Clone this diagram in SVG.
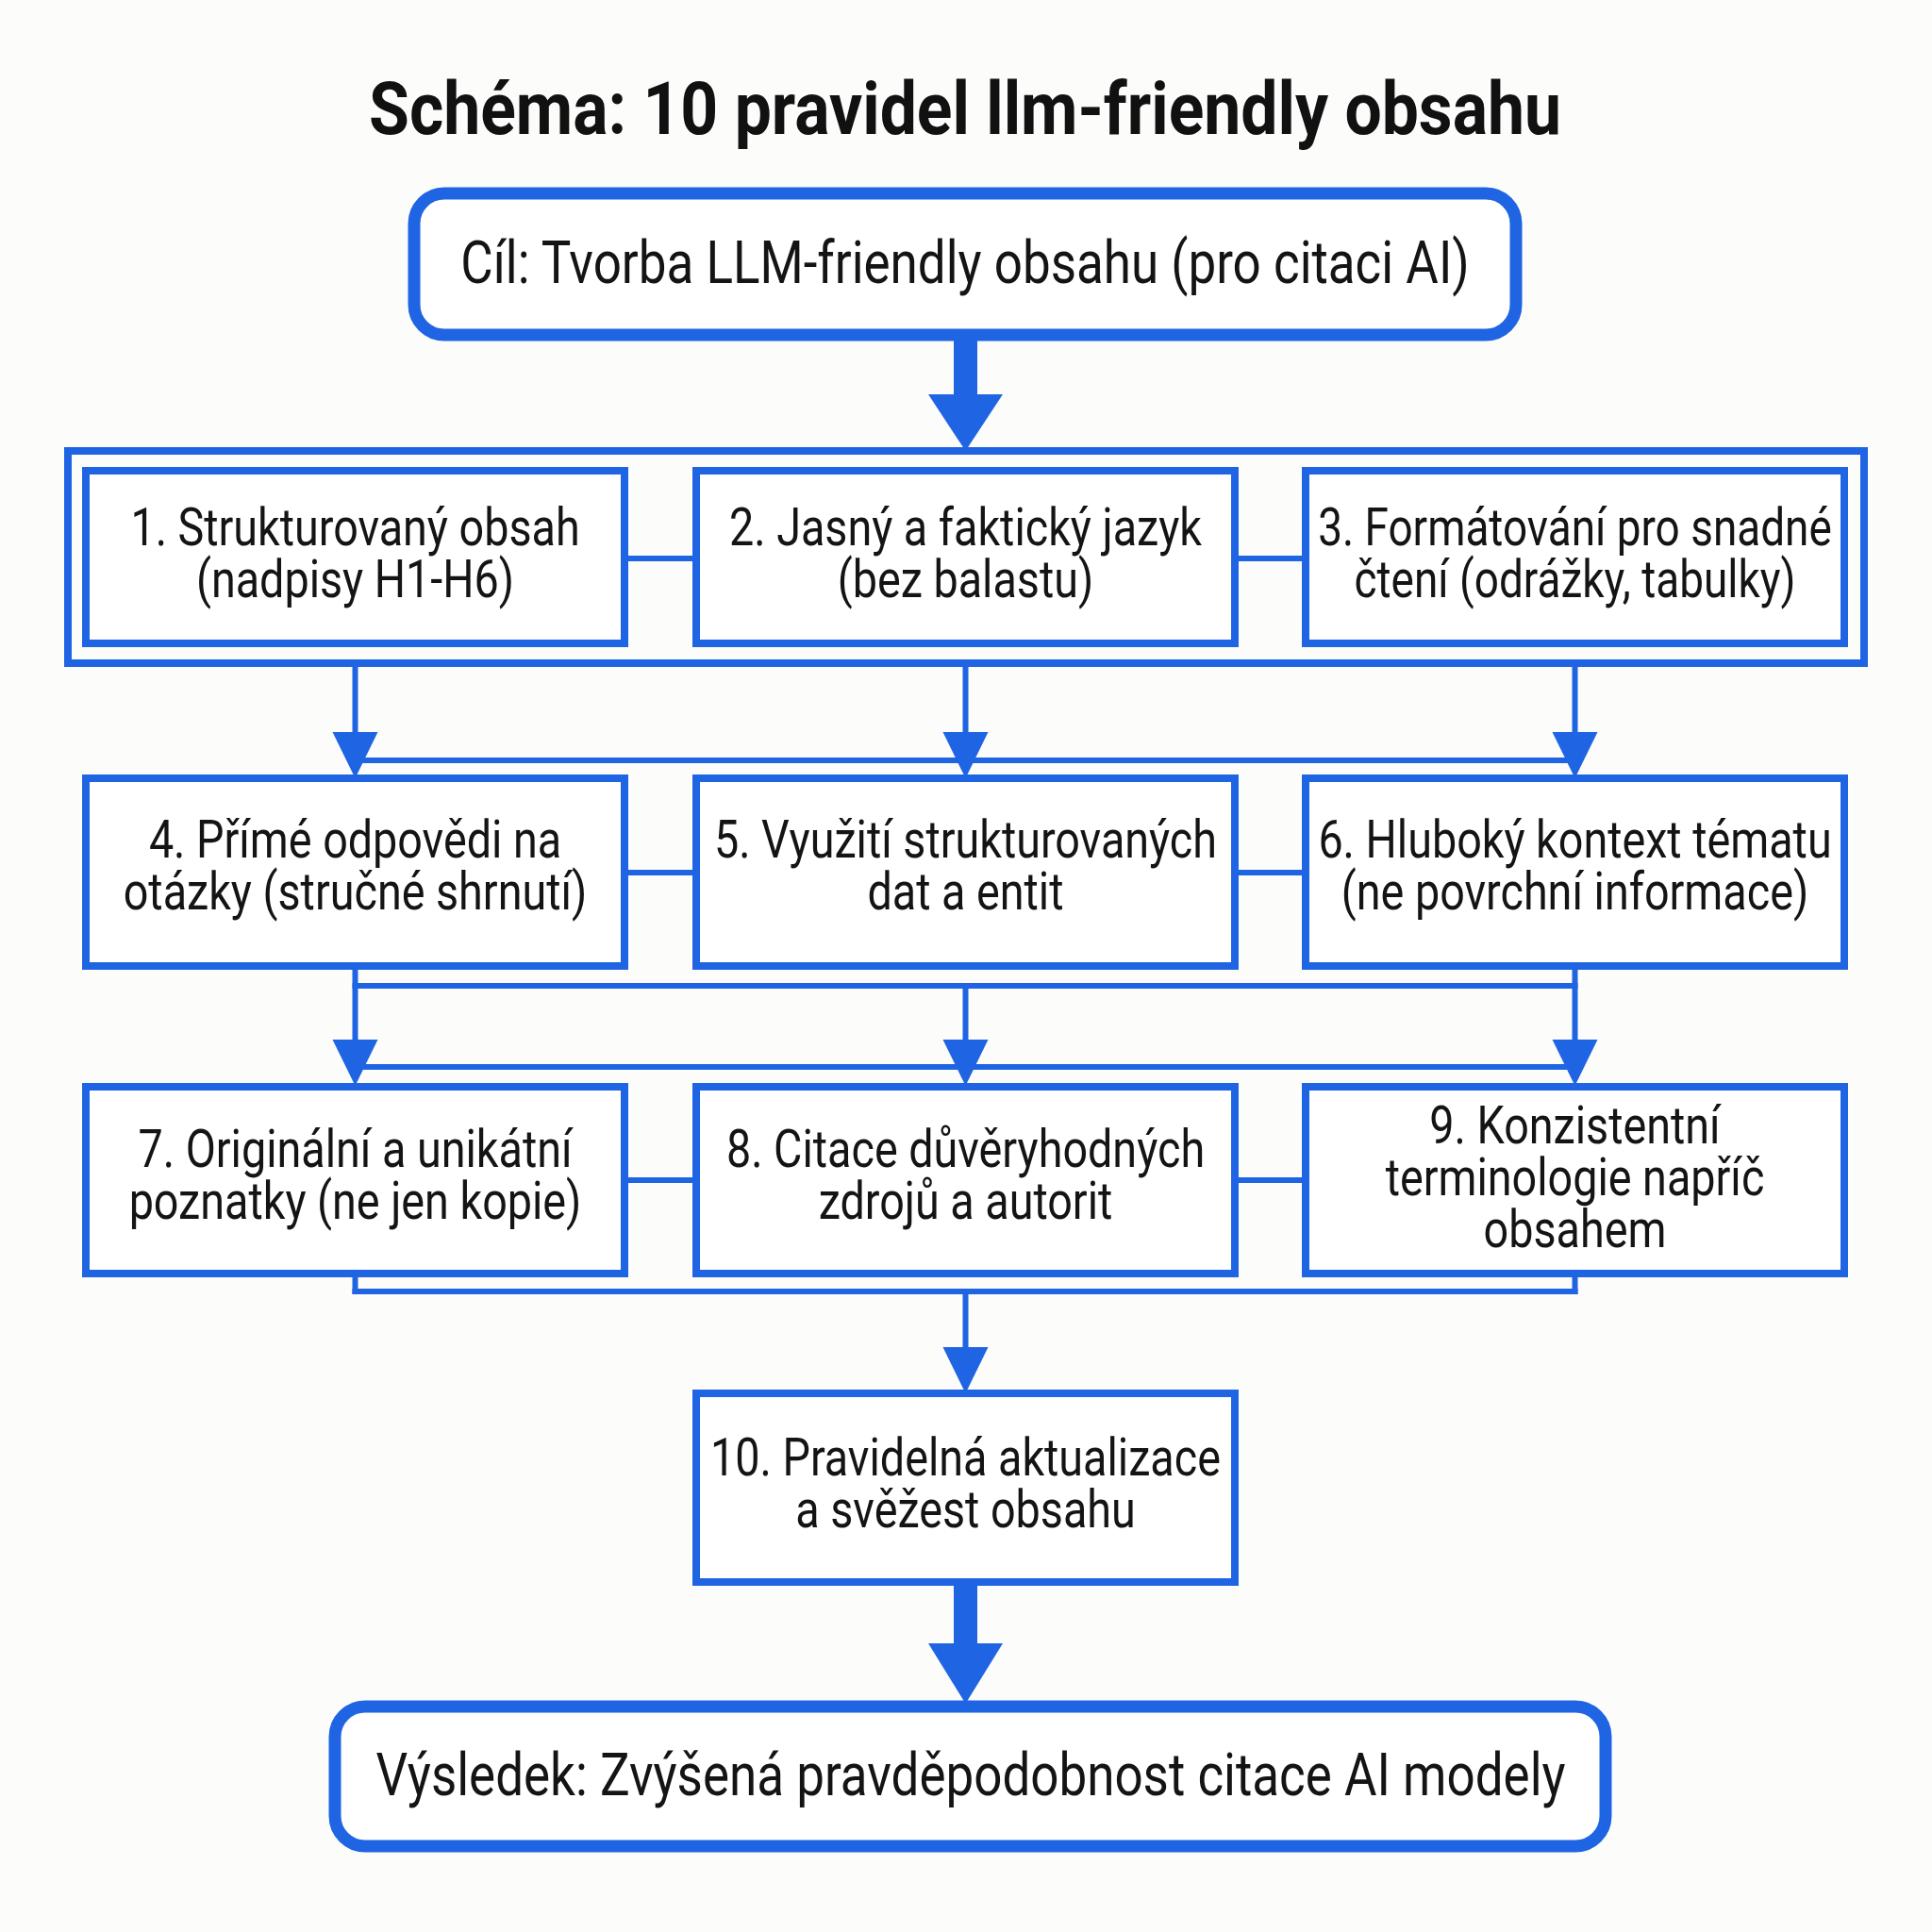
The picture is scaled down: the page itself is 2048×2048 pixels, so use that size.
<svg xmlns="http://www.w3.org/2000/svg" width="2048" height="2048" viewBox="0 0 2048 2048">
<defs>
<style>
.bg{fill:#fcfcfa}
.round{fill:#ffffff;stroke:#1f65e3;stroke-width:13}
.box{fill:#ffffff;stroke:#1f65e3;stroke-width:8}
.frame{fill:none;stroke:#1f65e3;stroke-width:8}
.ln{fill:none;stroke:#1f65e3;stroke-width:6;stroke-linecap:square}
.head{fill:#1f65e3}
.t{font-family:Roboto,"Liberation Sans",sans-serif;font-size:56px;fill:#141414;text-anchor:middle}
.tb{font-family:Roboto,"Liberation Sans",sans-serif;font-size:63.5px;fill:#141414;text-anchor:middle}
.title{font-family:Roboto,"Liberation Sans",sans-serif;font-size:78px;font-weight:bold;fill:#111111;text-anchor:middle}
</style>
</defs>
<rect class="bg" x="0" y="0" width="2048" height="2048"/>

<g id="title"><g transform="translate(1023,0) scale(0.893,1)"><text class="title" x="0" y="142">Schéma: 10 pravidel llm-friendly obsahu</text></g></g>

<g id="connectors">
  <rect class="head" x="1011" y="355" width="25" height="66"/>
  <polygon class="head" points="984,418 1063,418 1023.5,478"/>
  <rect id="group-frame" class="frame" x="72" y="478" width="1904" height="225"/>
  <line class="ln" x1="662" y1="592" x2="738" y2="592"/>
  <line class="ln" x1="1309" y1="592" x2="1384" y2="592"/>
  <line class="ln" x1="376.5" y1="703" x2="376.5" y2="780"/>
  <line class="ln" x1="1023.5" y1="703" x2="1023.5" y2="780"/>
  <line class="ln" x1="1669.5" y1="703" x2="1669.5" y2="780"/>
  <line class="ln" x1="376.5" y1="806" x2="1669.5" y2="806"/>
  <polygon class="head" points="352.5,776 400.5,776 376.5,825"/>
  <polygon class="head" points="999.5,776 1047.5,776 1023.5,825"/>
  <polygon class="head" points="1645.5,776 1693.5,776 1669.5,825"/>
  <line class="ln" x1="662" y1="925" x2="738" y2="925"/>
  <line class="ln" x1="1309" y1="925" x2="1384" y2="925"/>
  <line class="ln" x1="376.5" y1="1024" x2="376.5" y2="1105"/>
  <line class="ln" x1="1023.5" y1="1045" x2="1023.5" y2="1105"/>
  <line class="ln" x1="1669.5" y1="1024" x2="1669.5" y2="1105"/>
  <line class="ln" x1="376.5" y1="1045" x2="1669.5" y2="1045"/>
  <line class="ln" x1="376.5" y1="1131" x2="1669.5" y2="1131"/>
  <polygon class="head" points="352.5,1102 400.5,1102 376.5,1151"/>
  <polygon class="head" points="999.5,1102 1047.5,1102 1023.5,1151"/>
  <polygon class="head" points="1645.5,1102 1693.5,1102 1669.5,1151"/>
  <line class="ln" x1="662" y1="1251" x2="738" y2="1251"/>
  <line class="ln" x1="1309" y1="1251" x2="1384" y2="1251"/>
  <line class="ln" x1="376.5" y1="1350" x2="376.5" y2="1369"/>
  <line class="ln" x1="1669.5" y1="1350" x2="1669.5" y2="1369"/>
  <line class="ln" x1="376.5" y1="1369" x2="1669.5" y2="1369"/>
  <line class="ln" x1="1023.5" y1="1369" x2="1023.5" y2="1432"/>
  <polygon class="head" points="999.5,1428 1047.5,1428 1023.5,1477"/>
  <rect class="head" x="1011" y="1677" width="25" height="68"/>
  <polygon class="head" points="984,1742 1063,1742 1023.5,1806"/>
</g>

<g id="goal">
  <rect class="round" x="439" y="205" width="1168" height="150" rx="32"/>
  <g transform="translate(1023,0) scale(0.834,1)"><text class="tb" x="0" y="300">Cíl: Tvorba LLM-friendly obsahu (pro citaci AI)</text></g>
</g>

<g id="rule1">
  <rect class="box" x="91" y="499" width="571" height="183"/>
  <g transform="translate(376.5,0) scale(0.834,1)"><text class="t" x="0" y="578">1. Strukturovaný obsah</text><text class="t" x="0" y="633">(nadpisy H1-H6)</text></g>
</g>
<g id="rule2">
  <rect class="box" x="738" y="499" width="571" height="183"/>
  <g transform="translate(1023.5,0) scale(0.834,1)"><text class="t" x="0" y="578">2. Jasný a faktický jazyk</text><text class="t" x="0" y="633">(bez balastu)</text></g>
</g>
<g id="rule3">
  <rect class="box" x="1384" y="499" width="571" height="183"/>
  <g transform="translate(1669.5,0) scale(0.82,1)"><text class="t" x="0" y="578">3. Formátování pro snadné</text><text class="t" x="0" y="633">čtení (odrážky, tabulky)</text></g>
</g>

<g id="rule4">
  <rect class="box" x="91" y="825" width="571" height="199"/>
  <g transform="translate(376.5,0) scale(0.834,1)"><text class="t" x="0" y="909">4. Přímé odpovědi na</text><text class="t" x="0" y="964">otázky (stručné shrnutí)</text></g>
</g>
<g id="rule5">
  <rect class="box" x="738" y="825" width="571" height="199"/>
  <g transform="translate(1023.5,0) scale(0.834,1)"><text class="t" x="0" y="909">5. Využití strukturovaných</text><text class="t" x="0" y="964">dat a entit</text></g>
</g>
<g id="rule6">
  <rect class="box" x="1384" y="825" width="571" height="199"/>
  <g transform="translate(1669.5,0) scale(0.834,1)"><text class="t" x="0" y="909">6. Hluboký kontext tématu</text><text class="t" x="0" y="964">(ne povrchní informace)</text></g>
</g>

<g id="rule7">
  <rect class="box" x="91" y="1152" width="571" height="198"/>
  <g transform="translate(376.5,0) scale(0.834,1)"><text class="t" x="0" y="1237">7. Originální a unikátní</text><text class="t" x="0" y="1292">poznatky (ne jen kopie)</text></g>
</g>
<g id="rule8">
  <rect class="box" x="738" y="1152" width="571" height="198"/>
  <g transform="translate(1023.5,0) scale(0.834,1)"><text class="t" x="0" y="1237">8. Citace důvěryhodných</text><text class="t" x="0" y="1292">zdrojů a autorit</text></g>
</g>
<g id="rule9">
  <rect class="box" x="1384" y="1152" width="571" height="198"/>
  <g transform="translate(1669.5,0) scale(0.834,1)"><text class="t" x="0" y="1212">9. Konzistentní</text><text class="t" x="0" y="1267">terminologie napříč</text><text class="t" x="0" y="1322">obsahem</text></g>
</g>

<g id="rule10">
  <rect class="box" x="738" y="1477" width="571" height="200"/>
  <g transform="translate(1023.5,0) scale(0.834,1)"><text class="t" x="0" y="1564">10. Pravidelná aktualizace</text><text class="t" x="0" y="1619">a svěžest obsahu</text></g>
</g>

<g id="result">
  <rect class="round" x="355" y="1809" width="1347" height="148" rx="32"/>
  <g transform="translate(1029,0) scale(0.834,1)"><text class="tb" x="0" y="1903">Výsledek: Zvýšená pravděpodobnost citace AI modely</text></g>
</g>
</svg>
